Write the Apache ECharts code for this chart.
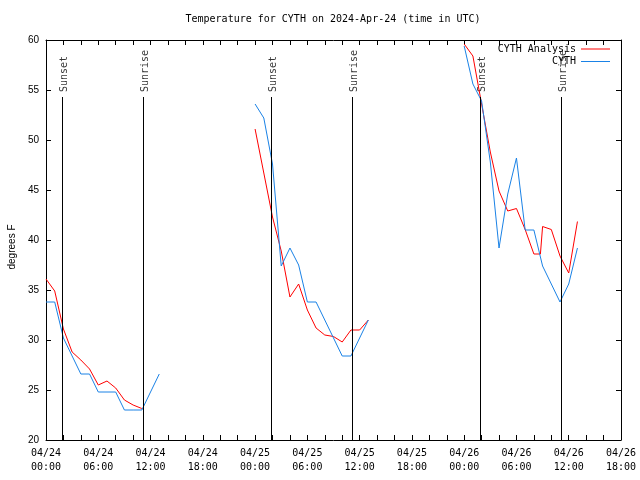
<!DOCTYPE html>
<html><head><meta charset="utf-8">
<script src="https://cdn.jsdelivr.net/npm/echarts@6/dist/echarts.min.js"></script>
<style>html,body{margin:0;padding:0;background:#fff}#c{width:640px;height:480px}</style>
</head><body><div id="c"></div>
<script>
const titleText = 'Temperature for CYTH on 2024-Apr-24 (time in UTC)';
const yAxisName = 'degrees F';
const xTickLabels = ['04/24 00:00','04/24 06:00','04/24 12:00','04/24 18:00',
  '04/25 00:00','04/25 06:00','04/25 12:00','04/25 18:00',
  '04/26 00:00','04/26 06:00','04/26 12:00','04/26 18:00'];

const analysisTimes = [
  '04/24 00:00','04/24 01:00','04/24 02:00','04/24 03:00','04/24 04:00','04/24 05:00',
  '04/24 06:00','04/24 07:00','04/24 08:00','04/24 09:00','04/24 10:00','04/24 11:00',
  '04/25 00:00','04/25 01:00','04/25 02:00','04/25 03:00','04/25 04:00','04/25 05:00',
  '04/25 06:00','04/25 07:00','04/25 08:00','04/25 09:00','04/25 10:00','04/25 11:00',
  '04/25 12:00','04/25 13:00',
  '04/26 00:00','04/26 01:00','04/26 02:00','04/26 03:00','04/26 04:00','04/26 05:00',
  '04/26 06:00','04/26 07:00','04/26 08:00','04/26 08:45','04/26 09:00','04/26 10:00',
  '04/26 11:00','04/26 12:00','04/26 13:00'];
const analysisTemps = [
  36.1, 34.9, 31.1, 28.8, 28.0, 27.1,
  25.5, 25.9, 25.2, 24.0, 23.5, 23.15,
  51.1, 46.7, 42.3, 38.9, 34.3, 35.6,
  33.0, 31.2, 30.5, 30.35, 29.8, 31.0,
  31.0, 32.0,
  59.6, 58.4, 53.6, 48.8, 44.9, 42.9,
  43.15, 41.05, 38.6, 38.6, 41.35, 41.05,
  38.4, 36.7, 41.85];

const obsTimes = [
  '04/24 00:00','04/24 01:00','04/24 02:00','04/24 03:00','04/24 04:00','04/24 05:00',
  '04/24 06:00','04/24 07:00','04/24 08:00','04/24 09:00','04/24 10:00','04/24 11:00',
  '04/24 12:00','04/24 13:00',
  '04/25 00:00','04/25 01:00','04/25 02:00','04/25 03:00','04/25 04:00','04/25 05:00',
  '04/25 06:00','04/25 07:00','04/25 08:00','04/25 09:00','04/25 10:00','04/25 11:00',
  '04/25 12:00','04/25 13:00',
  '04/26 00:00','04/26 01:00','04/26 02:00','04/26 03:00','04/26 04:00','04/26 05:00',
  '04/26 06:00','04/26 07:00','04/26 08:00','04/26 09:00','04/26 10:00','04/26 11:00',
  '04/26 12:00','04/26 13:00'];
const obsTemps = [
  33.8, 33.8, 30.2, 28.4, 26.6, 26.6,
  24.8, 24.8, 24.8, 23.0, 23.0, 23.0,
  24.8, 26.6,
  53.6, 52.2, 47.6, 37.4, 39.2, 37.5,
  33.8, 33.8, 32.0, 30.2, 28.4, 28.4,
  30.2, 32.0,
  59.4, 55.6, 53.9, 47.8, 39.2, 44.6,
  48.2, 41.0, 41.0, 37.4, 35.6, 33.8,
  35.6, 39.2];

const sunTimes = ['04/24 01:50','04/24 11:08','04/25 01:52','04/25 11:10','04/26 01:51','04/26 11:09'];
const sunNames = ['Sunset','Sunrise','Sunset','Sunrise','Sunset','Sunrise'];

function toHours(s) {
  const [d, t] = s.split(' ');
  const day = parseInt(d.split('/')[1], 10);
  const [hh, mm] = t.split(':').map(Number);
  return (day - 24) * 24 + hh + mm / 60;
}
function buildData(times, vals) {
  const out = [];
  let prev = null;
  times.forEach((t, i) => {
    const h = toHours(t);
    if (prev !== null && h - prev > 3) out.push([(h + prev) / 2, null]);
    out.push([h, vals[i]]);
    prev = h;
  });
  return out;
}

const mono = 'DejaVu Sans Mono';
const sans = 'Liberation Sans';
const axisLineStyle = {color: '#000', width: 1};
const red = '#ff0000';
const blue = '#1a82e6';

const chart = echarts.init(document.getElementById('c'), null, {renderer: 'canvas'});
chart.setOption({
  animation: false,
  backgroundColor: '#fff',
  graphic: [{
    type: 'text', x: 333, y: 19,
    style: {text: titleText, textAlign: 'center', textVerticalAlign: 'middle',
      font: '10px "' + mono + '"', fill: '#000'}
  }],
  legend: [
    {data: [{name: 'CYTH Analysis', icon: 'rect', itemStyle: {color: red}}],
     right: 30, top: 44, orient: 'vertical', align: 'right',
     itemWidth: 29, itemHeight: 1, padding: 0, selectedMode: false,
     textStyle: {fontFamily: mono, fontSize: 10, color: '#000'}},
    {data: [{name: 'CYTH', icon: 'rect', itemStyle: {color: blue}}],
     right: 30, top: 56.5, orient: 'vertical', align: 'right',
     itemWidth: 29, itemHeight: 1, padding: 0, selectedMode: false,
     textStyle: {fontFamily: mono, fontSize: 10, color: '#000'}}
  ],
  grid: {left: 46, right: 19, top: 40, bottom: 40, containLabel: false, outerBoundsMode: 'none'},
  xAxis: [
    {type: 'value', min: 0, max: 66, interval: 2, position: 'bottom',
     axisLine: {show: true, onZero: false, lineStyle: axisLineStyle},
     axisTick: {show: true, inside: true, length: 5, lineStyle: axisLineStyle},
     splitLine: {show: false},
     axisLabel: {
       show: true, margin: 6, color: '#000', fontFamily: mono, fontSize: 10, lineHeight: 14,
       showMinLabel: true, showMaxLabel: true,
       formatter: function (v) {
         const r = Math.round(v);
         if (r % 6 !== 0) return '';
         const s = xTickLabels[r / 6];
         return s ? s.replace(' ', '\n') : '';
       }
     }},
    {type: 'value', min: 0, max: 66, interval: 2, position: 'top',
     axisLine: {show: true, onZero: false, lineStyle: axisLineStyle},
     axisTick: {show: true, inside: true, length: 5, lineStyle: axisLineStyle},
     splitLine: {show: false}, axisLabel: {show: false}}
  ],
  yAxis: [
    {type: 'value', min: 20, max: 60, interval: 5, position: 'left',
     name: yAxisName, nameLocation: 'middle', nameGap: 29,
     nameTextStyle: {fontFamily: sans, fontSize: 10, color: '#000', padding: [0, 14, 0, 0]},
     axisLine: {show: true, onZero: false, lineStyle: axisLineStyle},
     axisTick: {show: true, inside: true, length: 5, lineStyle: axisLineStyle},
     splitLine: {show: false},
     axisLabel: {show: true, margin: 7, color: '#000', fontFamily: sans, fontSize: 10}},
    {type: 'value', min: 20, max: 60, interval: 5, position: 'right',
     axisLine: {show: true, onZero: false, lineStyle: axisLineStyle},
     axisTick: {show: true, inside: true, length: 5, lineStyle: axisLineStyle},
     splitLine: {show: false}, axisLabel: {show: false}}
  ],
  series: [
    {name: 'sun', type: 'scatter', xAxisIndex: 0, yAxisIndex: 0, symbolSize: 0, silent: true,
     data: sunTimes.map((t, i) => ({value: [toHours(t), 54.8], name: sunNames[i]})),
     label: {show: true, formatter: '{b}', rotate: 90, position: 'inside', align: 'left',
       verticalAlign: 'middle', color: '#000', fontFamily: mono, fontSize: 10, offset: [0, 2]},
     markLine: {silent: true, symbol: ['none', 'none'], animation: false,
       label: {show: false},
       lineStyle: {color: '#000', width: 1, type: 'solid'},
       emphasis: {disabled: true},
       data: sunTimes.map(t => [{coord: [toHours(t), 20]}, {coord: [toHours(t), 54.3]}])}
    },
    {name: 'CYTH Analysis', type: 'line', data: buildData(analysisTimes, analysisTemps),
     showSymbol: false, symbol: 'none', connectNulls: false,
     lineStyle: {color: red, width: 1}, itemStyle: {color: red}},
    {name: 'CYTH', type: 'line', data: buildData(obsTimes, obsTemps),
     showSymbol: false, symbol: 'none', connectNulls: false,
     lineStyle: {color: blue, width: 1}, itemStyle: {color: blue}}
  ]
});
</script></body></html>
